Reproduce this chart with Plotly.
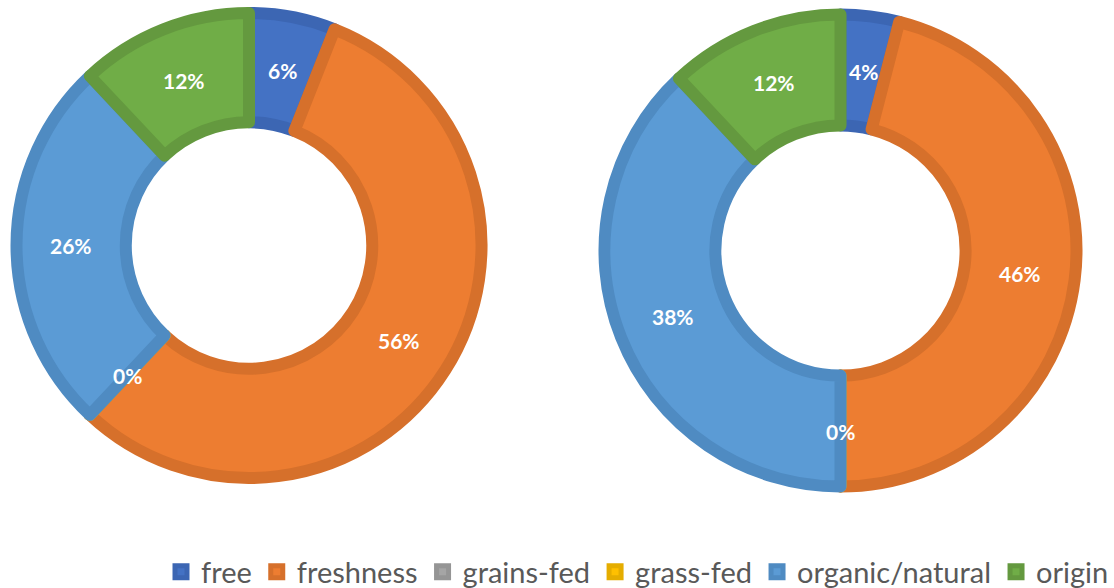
import math
import plotly.graph_objects as go

labels = ["free", "freshness", "grains-fed", "grass-fed", "organic/natural", "origin"]
left_values = [6, 56, 0, 0, 26, 12]
right_values = [4, 46, 0, 0, 38, 12]
left_text = ["6%", "56%", "0%", "", "26%", "12%"]
right_text = ["4%", "46%", "0%", "", "38%", "12%"]

fill_colors = ["#4472C4", "#ED7D31", "#A5A5A5", "#FFC000", "#5B9BD5", "#70AD47"]
line_colors = ["#3C66B3", "#D6702B", "#959595", "#E5AD00", "#4F8BC2", "#64993F"]

W, H = 1114, 588
LW = 12
HOLE = 0.53
LABEL_FONT = dict(family="Lato", size=21, color="white", weight="bold")


def px_x(x):
    return x / W


def px_y(y):
    return 1 - y / H


def domain(cx, cy, r):
    return dict(x=[px_x(cx - r), px_x(cx + r)], y=[px_y(cy + r), px_y(cy - r)])


fig = go.Figure()
annotations = []
for vals, txt, (cx, cy, r), show in [
    (left_values, left_text, (249, 245.5, 232.5), True),
    (right_values, right_text, (840.5, 250.5, 236), False),
]:
    fig.add_trace(go.Pie(
        labels=labels, values=vals, textinfo="none",
        sort=False, direction="clockwise", rotation=0, hole=HOLE,
        marker=dict(colors=fill_colors, line=dict(color=line_colors, width=LW)),
        domain=domain(cx, cy, r), showlegend=show, hoverinfo="label+percent",
    ))
    # data labels centred at mid-angle / mid-ring of each slice
    total = sum(vals)
    cum = 0
    rmid = (r + LW / 2 + r * HOLE - LW / 2) / 2
    for v, t in zip(vals, txt):
        if t:
            ang = math.radians((cum + v / 2) / total * 360)
            annotations.append(dict(
                x=px_x(cx + rmid * math.sin(ang)), y=px_y(cy - rmid * math.cos(ang)),
                xref="paper", yref="paper", text=t, showarrow=False,
                font=LABEL_FONT, xanchor="center", yanchor="middle",
            ))
        cum += v

fig.update_layout(
    width=W, height=H, margin=dict(l=0, r=0, t=0, b=0, autoexpand=False),
    paper_bgcolor="white", plot_bgcolor="white",
    annotations=annotations,
    legend=dict(orientation="h", x=px_x(1114), xanchor="right", y=px_y(572), yanchor="middle",
                font=dict(family="Lato", size=29, color="#595959"),
                traceorder="normal", itemwidth=30, tracegroupgap=0),
)
fig.write_html(
    "out.html",
    config={"displayModeBar": False},
    post_script="document.body.style.margin='0';document.body.style.overflow='hidden';",
)
